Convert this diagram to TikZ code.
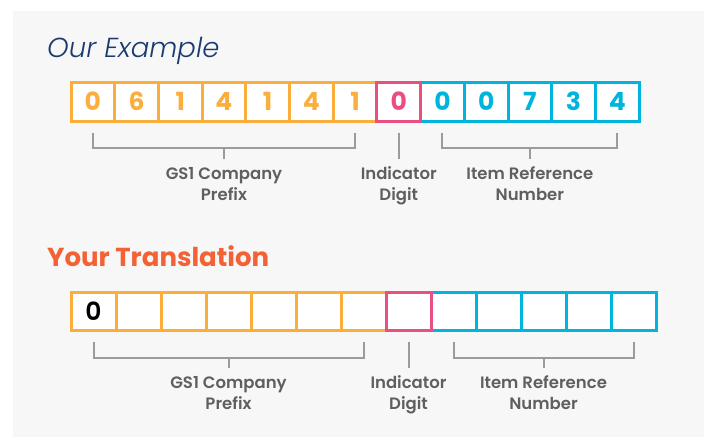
\documentclass[tikz,border=0pt]{standalone}
\usepackage{fontspec}
\setmainfont{Poppins}
\newfontfamily\titlefont{Poppins Light Italic}
\newfontfamily\labelfont{Poppins SemiBold}
\usetikzlibrary{positioning}
\usetikzlibrary{calc}

\definecolor{gsorange}{HTML}{FBAE3C}
\definecolor{gspink}{HTML}{E9507F}
\definecolor{gsblue}{HTML}{00B5DD}
\definecolor{gsgrey}{HTML}{9A9B9D}
\definecolor{gstext}{HTML}{5E5F61}
\definecolor{gsnavy}{HTML}{1B3B6F}
\definecolor{gsred}{HTML}{F26234}
\definecolor{gsback}{HTML}{F7F7F7}

\begin{document}
\begin{tikzpicture}[x=1pt,y=-1pt,
    digitbox/.style={draw=#1,line width=3pt,fill=white,text=#1,inner sep=0pt,
      minimum width=43.7pt,minimum height=39pt,font=\bfseries\fontsize{25}{25}\selectfont},
    emptybox/.style={draw=#1,line width=3pt,fill=white,inner sep=0pt,
      minimum width=45pt,minimum height=38pt,font=\labelfont\fontsize{25}{25}\selectfont},
    bracket/.style={gsgrey,line width=2pt},
    partlabel/.style={anchor=north,align=center,inner sep=0pt,yshift=-7.5pt,text=gstext,
      font=\labelfont\fontsize{16.5}{21}\selectfont}]

    % background
    \fill[white] (0,0) rectangle (704,437);
    \fill[gsback] (13,11) rectangle (704,437);
    \useasboundingbox (0,0) rectangle (704,437);

    % titles
    \node[anchor=base west,inner sep=0pt,text=gsnavy,font=\titlefont\fontsize{27.5}{27.5}\selectfont]
      (ourtitle) at (47,57) {Our Example};
    \node[anchor=base west,inner sep=0pt,text=gsred,font=\bfseries\fontsize{26}{26}\selectfont]
      (yourtitle) at (47,266) {Your Translation};

    % our example: digit boxes
    \foreach \d [count=\i] in {0,6,1,4,1,4,1}
      \node[digitbox=gsorange] (t\i) at (71+43.7*\i-21.85,101.5) {\d};
    \foreach \d [count=\i from 9] in {0,0,7,3,4}
      \node[digitbox=gsblue] (t\i) at (71+43.7*\i-21.85,101.5) {\d};
    \node[digitbox=gspink] (t8) at (71+43.7*8-21.85,101.5) {0};

    % our example: brackets
    \draw[bracket] ($(t1.south)+(0,10)$) -- ++(0,15) -| ($(t7.south)+(0,10)$);
    \draw[bracket] ($(t1.south)!0.5!(t7.south)+(0,25)$) -- ++(0,11)
      node[partlabel] (tprefix) {GS1 Company\\Prefix};
    \draw[bracket] ($(t8.south)+(0,10)$) -- ++(0,26)
      node[partlabel] (tindicator) {Indicator\\Digit};
    \draw[bracket] ($(t9.south)+(0,10)$) -- ++(0,15) -| ($(t13.south)+(0,10)$);
    \draw[bracket] ($(t9.south)!0.5!(t13.south)+(0,25)$) -- ++(0,11)
      node[partlabel] (titem) {Item Reference\\Number};

    % your translation: empty boxes
    \foreach \i in {1,...,7}
      \node[emptybox=gsorange] (b\i) at (71+45*\i-22.5,311) {};
    \foreach \i in {9,...,13}
      \node[emptybox=gsblue] (b\i) at (71+45*\i-22.5,311) {};
    \node[emptybox=gspink] (b8) at (71+45*8-22.5,311) {};
    \node[font=\labelfont\fontsize{25}{25}\selectfont] (bzero) at (b1) {0};

    % your translation: brackets
    \draw[bracket] ($(b1.south)+(0,10)$) -- ++(0,16) -| ($(b7.south)+(0,10)$);
    \draw[bracket] ($(b1.south)!0.5!(b7.south)+(0,26)$) -- ++(0,10)
      node[partlabel] (bprefix) {GS1 Company\\Prefix};
    \draw[bracket] ($(b8.south)+(0,10)$) -- ++(0,26)
      node[partlabel] (bindicator) {Indicator\\Digit};
    \draw[bracket] ($(b9.south)+(0,10)$) -- ++(0,16) -| ($(b13.south)+(0,10)$);
    \draw[bracket] ($(b9.south)!0.5!(b13.south)+(0,26)$) -- ++(0,10)
      node[partlabel] (bitem) {Item Reference\\Number};

\end{tikzpicture}
\end{document}
